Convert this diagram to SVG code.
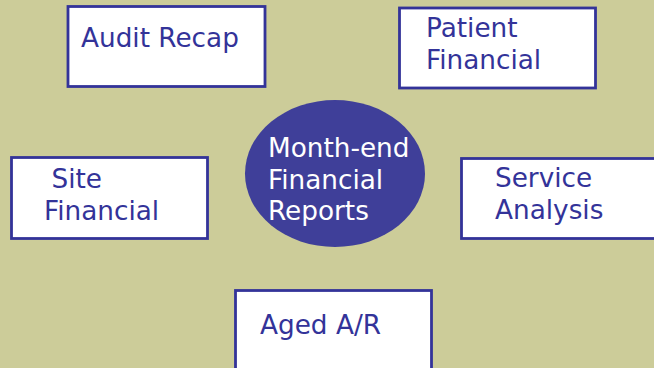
<svg xmlns="http://www.w3.org/2000/svg" width="654" height="368" viewBox="0 0 654 368">
<style>
.box{fill:#ffffff;stroke:#333399;stroke-width:2.8}
.t{font-family:"DejaVu Sans","Liberation Sans",sans-serif;font-size:26.3px;fill:#333399}
.w{font-family:"DejaVu Sans","Liberation Sans",sans-serif;font-size:26.3px;fill:#ffffff}
</style>
<rect x="0" y="0" width="654" height="368" fill="#cccc99"/>
<g id="connectors"></g>
<g id="audit-recap">
<rect class="box" x="68" y="6.5" width="197" height="80"/>
<text class="t" x="81" y="47">Audit Recap</text>
</g>
<g id="patient-financial">
<rect class="box" x="399.5" y="8" width="196" height="80"/>
<text class="t" x="426" y="37">Patient</text>
<text class="t" x="426" y="68.5">Financial</text>
</g>
<g id="month-end">
<ellipse cx="335" cy="173.5" rx="90" ry="73.5" fill="#3f3f99"/>
<text class="w" x="268" y="157">Month-end</text>
<text class="w" x="268" y="188.5">Financial</text>
<text class="w" x="268" y="220">Reports</text>
</g>
<g id="site-financial">
<rect class="box" x="11.5" y="157.5" width="196" height="81"/>
<text class="t" x="51.5" y="187.5">Site</text>
<text class="t" x="44" y="219.5">Financial</text>
</g>
<g id="service-analysis">
<rect class="box" x="461.5" y="158.5" width="200" height="80"/>
<text class="t" x="495" y="187">Service</text>
<text class="t" x="495" y="219">Analysis</text>
</g>
<g id="aged-ar">
<rect class="box" x="235.5" y="290.5" width="196" height="90"/>
<text class="t" x="260" y="333.5">Aged A/R</text>
</g>
</svg>
